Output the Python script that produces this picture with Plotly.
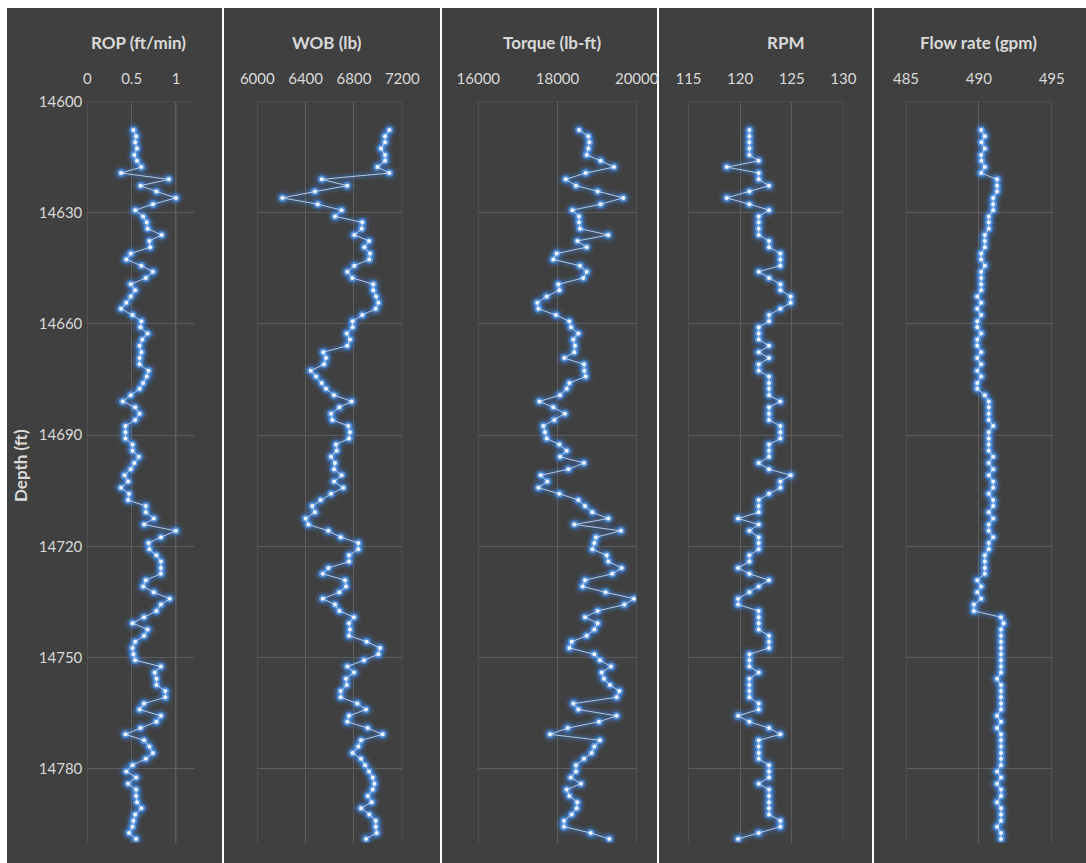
import plotly.graph_objects as go

# ---------------- data ----------------
depth_ft = [
    14607.7, 14609.4, 14611.0, 14612.7, 14614.4, 14616.0, 14617.7, 14619.3, 14621.0, 14622.7,
    14624.3, 14626.0, 14627.7, 14629.3, 14631.0, 14632.6, 14634.3, 14636.0, 14637.6, 14639.3,
    14641.0, 14642.6, 14644.3, 14645.9, 14647.6, 14649.3, 14650.9, 14652.6, 14654.3, 14655.9,
    14657.6, 14659.3, 14660.9, 14662.6, 14664.2, 14665.9, 14667.6, 14669.2, 14670.9, 14672.6,
    14674.2, 14675.9, 14677.5, 14679.2, 14680.9, 14682.5, 14684.2, 14685.9, 14687.5, 14689.2,
    14690.9, 14692.5, 14694.2, 14695.8, 14697.5, 14699.2, 14700.8, 14702.5, 14704.2, 14705.8,
    14707.5, 14709.1, 14710.8, 14712.5, 14714.1, 14715.8, 14717.5, 14719.1, 14720.8, 14722.4,
    14724.1, 14725.8, 14727.4, 14729.1, 14730.8, 14732.4, 14734.1, 14735.7, 14737.4, 14739.1,
    14740.7, 14742.4, 14744.1, 14745.7, 14747.4, 14749.1, 14750.7, 14752.4, 14754.0, 14755.7,
    14757.4, 14759.0, 14760.7, 14762.4, 14764.0, 14765.7, 14767.3, 14769.0, 14770.7, 14772.3,
    14774.0, 14775.7, 14777.3, 14779.0, 14780.7, 14782.3, 14784.0, 14785.6, 14787.3, 14789.0,
    14790.6, 14792.3, 14794.0, 14795.6, 14797.3, 14798.9]

rop_ft_min = [
    0.52, 0.55, 0.54, 0.56, 0.53, 0.56, 0.61, 0.38, 0.92, 0.60,
    0.78, 1.00, 0.74, 0.54, 0.63, 0.67, 0.68, 0.84, 0.70, 0.71,
    0.49, 0.44, 0.61, 0.74, 0.66, 0.49, 0.54, 0.49, 0.44, 0.38,
    0.51, 0.61, 0.60, 0.68, 0.62, 0.59, 0.61, 0.59, 0.59, 0.69,
    0.67, 0.63, 0.59, 0.49, 0.40, 0.54, 0.59, 0.54, 0.43, 0.43,
    0.43, 0.51, 0.51, 0.58, 0.53, 0.49, 0.42, 0.46, 0.38, 0.47,
    0.46, 0.66, 0.66, 0.75, 0.64, 1.00, 0.83, 0.69, 0.70, 0.78,
    0.83, 0.83, 0.83, 0.66, 0.63, 0.75, 0.93, 0.83, 0.78, 0.64,
    0.51, 0.68, 0.64, 0.54, 0.51, 0.52, 0.54, 0.83, 0.76, 0.78,
    0.78, 0.88, 0.88, 0.64, 0.59, 0.83, 0.78, 0.60, 0.43, 0.64,
    0.70, 0.74, 0.66, 0.51, 0.44, 0.55, 0.46, 0.55, 0.55, 0.56,
    0.61, 0.54, 0.52, 0.51, 0.47, 0.55]

wob_lb = [
    7093, 7057, 7057, 7024, 7057, 7057, 6994, 7093, 6533, 6745,
    6477, 6207, 6500, 6698, 6643, 6869, 6864, 6803, 6925, 6886,
    6933, 6927, 6803, 6745, 6787, 6960, 6960, 6983, 7002, 6980,
    6869, 6789, 6789, 6740, 6767, 6745, 6546, 6569, 6552, 6442,
    6486, 6533, 6569, 6635, 6781, 6679, 6610, 6621, 6753, 6767,
    6759, 6651, 6657, 6610, 6643, 6635, 6698, 6635, 6712, 6610,
    6524, 6455, 6477, 6400, 6422, 6588, 6690, 6836, 6836, 6759,
    6759, 6588, 6541, 6726, 6734, 6679, 6541, 6643, 6679, 6800,
    6759, 6767, 6759, 6905, 7016, 7002, 6883, 6745, 6800, 6734,
    6740, 6690, 6690, 6828, 6900, 6759, 6745, 6914, 7038, 6858,
    6836, 6789, 6858, 6892, 6925, 6955, 6969, 6955, 6914, 6947,
    6858, 6927, 6980, 6980, 6988, 6900]

torque_lb_ft = [
    18543, 18779, 18804, 18779, 18737, 19090, 19427, 18711, 18206, 18467,
    19014, 19663, 19090, 18374, 18543, 18543, 18568, 19284, 18501, 18737,
    17979, 17895, 18568, 18737, 18652, 18021, 18046, 17726, 17490, 17516,
    17962, 18299, 18341, 18526, 18400, 18442, 18425, 18172, 18669, 18678,
    18711, 18299, 18232, 18063, 17541, 17895, 18189, 17920, 17642, 17684,
    17726, 18046, 18232, 18063, 18669, 18273, 17575, 17743, 17516, 18046,
    18526, 18694, 18880, 19284, 18425, 19604, 18972, 18930, 18880, 19242,
    19284, 19621, 19385, 18694, 18635, 19216, 19932, 19688, 19014, 18694,
    19014, 18930, 18737, 18358, 18299, 18930, 19073, 19351, 19115, 19174,
    19326, 19562, 19494, 18400, 18526, 19494, 19048, 18257, 17810, 19073,
    18930, 18863, 18669, 18467, 18467, 18332, 18594, 18232, 18299, 18501,
    18484, 18358, 18164, 18164, 18838, 19309]

rpm = [
    120.9, 120.9, 120.9, 120.9, 120.9, 121.8, 118.7, 121.8, 121.8, 122.8,
    120.9, 118.7, 120.9, 122.8, 121.8, 121.8, 121.8, 121.8, 122.8, 122.8,
    123.9, 123.9, 123.9, 121.8, 122.8, 123.9, 123.9, 124.9, 124.9, 123.9,
    122.8, 122.8, 121.8, 121.8, 121.8, 122.8, 121.8, 122.8, 121.8, 121.8,
    122.8, 122.8, 122.8, 122.8, 123.9, 122.8, 122.8, 122.8, 123.9, 123.9,
    123.9, 122.8, 122.8, 122.8, 121.8, 122.8, 124.9, 123.9, 123.9, 122.8,
    121.8, 121.8, 121.8, 119.8, 121.8, 120.9, 121.8, 121.8, 121.8, 120.9,
    120.9, 119.8, 120.9, 122.8, 121.8, 120.9, 119.8, 119.8, 121.8, 121.8,
    121.8, 121.8, 122.8, 122.8, 122.8, 120.9, 120.9, 120.9, 121.8, 120.9,
    120.9, 120.9, 120.9, 121.8, 121.8, 119.8, 120.9, 122.8, 123.9, 121.8,
    121.8, 121.8, 121.8, 122.8, 122.8, 122.8, 121.8, 122.8, 122.8, 122.8,
    122.8, 122.8, 123.9, 123.9, 121.8, 119.8]

flow_gpm = [
    490.16, 490.41, 490.18, 490.41, 490.16, 490.18, 490.41, 490.16, 491.25, 491.25,
    491.25, 490.98, 490.98, 490.98, 490.68, 490.68, 490.68, 490.41, 490.41, 490.41,
    490.16, 490.16, 490.41, 490.16, 490.16, 490.16, 490.16, 489.89, 490.16, 489.89,
    490.16, 489.89, 489.89, 490.16, 489.89, 489.89, 490.16, 489.89, 490.16, 489.89,
    490.16, 489.89, 489.89, 490.41, 490.68, 490.68, 490.68, 490.68, 490.98, 490.68,
    490.68, 490.68, 490.68, 490.98, 490.68, 490.98, 490.68, 490.98, 490.98, 490.68,
    490.98, 490.98, 490.68, 490.98, 490.68, 490.68, 490.98, 490.68, 490.68, 490.41,
    490.41, 490.41, 490.41, 489.89, 490.16, 489.89, 490.16, 489.66, 489.66, 491.52,
    491.70, 491.52, 491.52, 491.52, 491.52, 491.52, 491.52, 491.52, 491.52, 491.25,
    491.52, 491.52, 491.52, 491.52, 491.52, 491.25, 491.52, 491.25, 491.52, 491.52,
    491.52, 491.52, 491.52, 491.52, 491.25, 491.52, 491.25, 491.52, 491.52, 491.25,
    491.52, 491.52, 491.52, 491.25, 491.52, 491.52]

panel_titles = ["ROP (ft/min)", "WOB (lb)", "Torque (lb-ft)", "RPM", "Flow rate (gpm)"]
x_ranges = [[0, 1.2], [6000, 7200], [16000, 20000], [115, 130], [485, 495]]
x_tickvals = [[0, 0.5, 1], [6000, 6400, 6800, 7200], [16000, 18000, 20000],
              [115, 120, 125, 130], [485, 490, 495]]
x_ticktext = [["0", "0.5", "1"], ["6000", "6400", "6800", "7200"],
              ["16000", "18000", "20000"], ["115", "120", "125", "130"],
              ["485", "490", "495"]]
depth_tickvals = [14600, 14630, 14660, 14690, 14720, 14750, 14780]
depth_ticktext = ["14600", "14630", "14660", "14690", "14720", "14750", "14780"]
depth_range = [14800, 14600]
depth_title = "Depth (ft)"

series = [rop_ft_min, wob_lb, torque_lb_ft, rpm, flow_gpm]

# ---------------- layout geometry (pixels) ----------------
W, H = 1086, 863
panel_px = [(7, 222), (224, 440), (442, 657), (659, 872), (874, 1086)]
plot_px = [(87.3, 193.7), (257.3, 402.3), (478.3, 636.7), (688.5, 843.3), (906, 1051.7)]
title_cx = [138, 327, 552, 786, 978]
top_px, bot_px = 101.5, 843
panel_top = 8

def fx(x):
    return x / W

def fy(y):
    return 1 - y / H

BG = "#404040"
GRID = "#5E5E5E"
TXT = "#D9D9D9"
FONT = "Lato, 'Open Sans', sans-serif"

fig = go.Figure()

shapes = []
for (a, b) in panel_px:
    shapes.append(dict(type="rect", xref="paper", yref="paper",
                       x0=fx(a), x1=fx(b), y0=0, y1=fy(panel_top),
                       fillcolor=BG, line=dict(width=0), layer="below"))

annotations = []
layout_axes = {}
for k in range(5):
    n = "" if k == 0 else str(k + 1)
    xa = "x" + n
    ya = "y" + n
    xs = series[k]
    # boundary grid lines (first / last tick, top depth line)
    for tv in (x_tickvals[k][0], x_tickvals[k][-1]):
        shapes.append(dict(type="line", xref=xa, yref=ya, x0=tv, x1=tv,
                           y0=depth_range[0], y1=depth_range[1],
                           line=dict(color=GRID, width=1), layer="below"))
    shapes.append(dict(type="line", xref=xa, yref=ya, x0=x_ranges[k][0], x1=x_ranges[k][1],
                       y0=depth_tickvals[0], y1=depth_tickvals[0],
                       line=dict(color=GRID, width=1), layer="below"))
    # soft outer glow
    fig.add_trace(go.Scatter(x=xs, y=depth_ft, xaxis=xa, yaxis=ya, mode="lines+markers",
                             line=dict(color="rgba(60,130,225,0.12)", width=9),
                             marker=dict(size=16, color="rgba(60,135,230,0.13)"),
                             hoverinfo="skip", showlegend=False))
    fig.add_trace(go.Scatter(x=xs, y=depth_ft, xaxis=xa, yaxis=ya, mode="lines+markers",
                             line=dict(color="rgba(60,130,225,0.18)", width=5),
                             marker=dict(size=11, color="rgba(60,135,230,0.28)"),
                             hoverinfo="skip", showlegend=False))
    fig.add_trace(go.Scatter(x=xs, y=depth_ft, xaxis=xa, yaxis=ya, mode="markers",
                             marker=dict(size=7.5, color="rgba(95,165,245,0.65)"),
                             hoverinfo="skip", showlegend=False))
    fig.add_trace(go.Scatter(x=xs, y=depth_ft, xaxis=xa, yaxis=ya, mode="lines+markers",
                             line=dict(color="rgba(205,222,245,0.85)", width=1),
                             marker=dict(size=4, color="#EEF5FF"),
                             showlegend=False))
    a, b = plot_px[k]
    layout_axes["xaxis" + n] = dict(
        domain=[fx(a), fx(b)], range=x_ranges[k], anchor=ya, side="top",
        tickmode="array", tickvals=x_tickvals[k], ticktext=x_ticktext[k],
        showgrid=True, gridcolor=GRID, gridwidth=1, zeroline=False, showline=False,
        ticks="", automargin=False,
        tickfont=dict(family=FONT, size=15, color=TXT), ticklabelstandoff=14,
        fixedrange=True)
    layout_axes["yaxis" + n] = dict(
        domain=[fy(bot_px), fy(top_px)], range=depth_range, anchor=xa,
        tickmode="array", tickvals=depth_tickvals, ticktext=depth_ticktext,
        showgrid=True, gridcolor=GRID, gridwidth=1, zeroline=False, showline=False,
        ticks="", automargin=False,
        showticklabels=(k == 0), tickfont=dict(family=FONT, size=15, color=TXT),
        ticklabelstandoff=4, fixedrange=True)
    annotations.append(dict(text="<b>" + panel_titles[k] + "</b>", xref="paper", yref="paper",
                            x=fx(title_cx[k]), y=fy(42), xanchor="center", yanchor="middle",
                            showarrow=False, font=dict(family=FONT, size=17, color=TXT)))

annotations.append(dict(text="<b>" + depth_title + "</b>", xref="paper", yref="paper",
                        x=fx(20), y=fy(466), xanchor="center", yanchor="middle",
                        textangle=-90, showarrow=False,
                        font=dict(family=FONT, size=17, color=TXT)))

fig.update_layout(
    template="none",
    width=W, height=H, autosize=False,
    margin=dict(l=0, r=0, t=0, b=0, pad=0),
    paper_bgcolor="white", plot_bgcolor="rgba(0,0,0,0)",
    shapes=shapes, annotations=annotations, showlegend=False,
    **layout_axes)

fig.write_html("out.html", config={"responsive": False, "displayModeBar": False},
               post_script="document.body.style.margin='0';document.body.style.overflow='hidden';")
